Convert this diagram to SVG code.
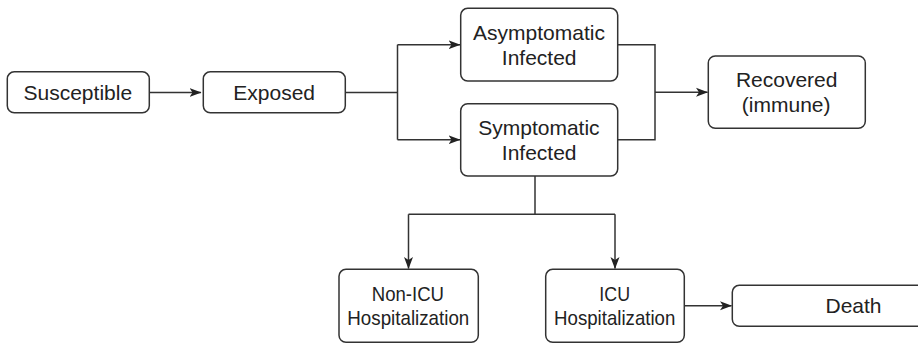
<svg xmlns="http://www.w3.org/2000/svg" width="918" height="344" viewBox="0 0 918 344">
<style>
.box{fill:#fff;stroke:#333;stroke-width:1.5}
.t{font-family:"Liberation Sans",Arial,sans-serif;font-size:21px;fill:#222;text-anchor:middle}
.c{fill:none;stroke:#333;stroke-width:1.5}
</style>
<defs>
<marker id="ah" viewBox="0 0 12 10" refX="11.5" refY="5" markerWidth="12" markerHeight="10" markerUnits="userSpaceOnUse" orient="auto">
<path d="M0,0.5 L12,5 L0,9.5 L3,5 z" fill="#222"/>
</marker>
</defs>
<rect width="918" height="344" fill="#fff"/>
<g id="connectors">
<path class="c" d="M149,92.5 H201" marker-end="url(#ah)"/>
<path class="c" d="M345,92.5 H397"/>
<path class="c" d="M397.5,44.7 V139.7"/>
<path class="c" d="M397.5,44.7 H460" marker-end="url(#ah)"/>
<path class="c" d="M397.5,139.7 H460" marker-end="url(#ah)"/>
<path class="c" d="M617.5,44.7 H655 V139.7 H617.5"/>
<path class="c" d="M655,92.3 H707.5" marker-end="url(#ah)"/>
<path class="c" d="M535,176 V214.3"/>
<path class="c" d="M408.5,214.3 H615"/>
<path class="c" d="M408.5,214.3 V268.5" marker-end="url(#ah)"/>
<path class="c" d="M615,214.3 V268.5" marker-end="url(#ah)"/>
<path class="c" d="M684.3,305.8 H731.5" marker-end="url(#ah)"/>
</g>
<g id="susceptible">
<rect class="box" x="7.3" y="71.8" width="142" height="41" rx="7"/>
<text class="t" x="77.8" y="99.5">Susceptible</text>
</g>
<g id="exposed">
<rect class="box" x="203.3" y="71.8" width="142" height="41" rx="7"/>
<text class="t" x="274.2" y="99.5">Exposed</text>
</g>
<g id="asymptomatic">
<rect class="box" x="460.7" y="8.3" width="157" height="72.7" rx="7"/>
<text class="t" x="539" y="40">Asymptomatic</text>
<text class="t" x="539.2" y="64.5">Infected</text>
</g>
<g id="symptomatic">
<rect class="box" x="460.7" y="103.7" width="157" height="72.3" rx="7"/>
<text class="t" x="538.9" y="135.2">Symptomatic</text>
<text class="t" x="539.2" y="159.7">Infected</text>
</g>
<g id="recovered">
<rect class="box" x="708.3" y="56" width="157" height="72.3" rx="7"/>
<text class="t" x="786.7" y="87.3">Recovered</text>
<text class="t" x="786.2" y="111.5">(immune)</text>
</g>
<g id="nonicu">
<rect class="box" x="339" y="269.3" width="139.3" height="73" rx="7"/>
<text class="t" x="407.9" y="300.7" textLength="72.3" lengthAdjust="spacingAndGlyphs">Non-ICU</text>
<text class="t" x="408.3" y="325" textLength="122" lengthAdjust="spacingAndGlyphs">Hospitalization</text>
</g>
<g id="icu">
<rect class="box" x="545.7" y="269.3" width="138.6" height="73" rx="7"/>
<text class="t" x="614.7" y="300.7" textLength="30.7" lengthAdjust="spacingAndGlyphs">ICU</text>
<text class="t" x="614.7" y="325" textLength="121.3" lengthAdjust="spacingAndGlyphs">Hospitalization</text>
</g>
<g id="death">
<rect class="box" x="732.3" y="285.3" width="240" height="41" rx="7"/>
<text class="t" x="853.5" y="313">Death</text>
</g>
</svg>
